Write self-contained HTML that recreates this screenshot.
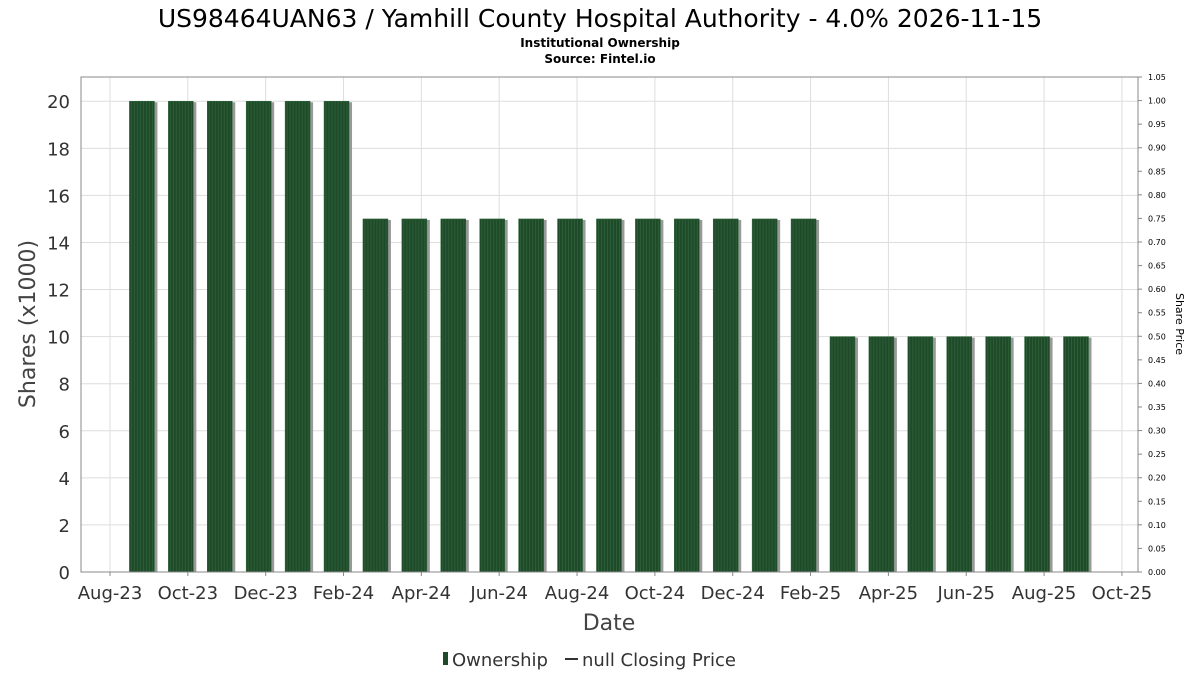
<!DOCTYPE html>
<html><head><meta charset="utf-8"><style>
body{margin:0;background:#fff;font-family:"DejaVu Sans","Liberation Sans",sans-serif}
</style></head><body>
<svg id="chart" width="1200" height="675" xmlns="http://www.w3.org/2000/svg" font-family="DejaVu Sans, Liberation Sans, sans-serif">
<text x="600" y="27" text-anchor="middle" font-size="25" fill="#000">US98464UAN63 / Yamhill County Hospital Authority - 4.0% 2026-11-15</text>
<text x="600" y="47" text-anchor="middle" font-size="12" font-weight="bold" fill="#000">Institutional Ownership</text>
<text x="600" y="63" text-anchor="middle" font-size="12" font-weight="bold" fill="#000">Source: Fintel.io</text>
<g id="grid"></g><g id="bars"></g><g id="axes"></g>
<rect x="81" y="77" width="1057" height="495" fill="none" stroke="#888" stroke-width="1"/>
<text transform="translate(35,324) rotate(-90)" text-anchor="middle" font-size="22" fill="#444">Shares (x1000)</text>
<text transform="translate(1176,324) rotate(90)" text-anchor="middle" font-size="11" fill="#000">Share Price</text>
<text x="609" y="630" text-anchor="middle" font-size="22" fill="#444">Date</text>
<g>
<rect x="443" y="652" width="5" height="13" fill="#1f4a2a"/>
<text x="452" y="666" font-size="18" fill="#333">Ownership</text>
<line x1="565" y1="659" x2="578" y2="659" stroke="#333" stroke-width="2"/>
<text x="582" y="666" font-size="18" fill="#333">null Closing Price</text>
</g>
</svg>
<script>
const tickLabels=["Aug-23","Oct-23","Dec-23","Feb-24","Apr-24","Jun-24","Aug-24","Oct-24","Dec-24","Feb-25","Apr-25","Jun-25","Aug-25","Oct-25"];
const barMonths=[1,2,3,4,5,6,7,8,9,10,11,12,13,14,15,16,17,18,19,20,21,22,23,24,25];
const shares=[20,20,20,20,20,20,15,15,15,15,15,15,15,15,15,15,15,15,10,10,10,10,10,10,10];
const yTicks=[0,2,4,6,8,10,12,14,16,18,20];
const y2Ticks=[0,0.05,0.1,0.15,0.2,0.25,0.3,0.35,0.4,0.45,0.5,0.55,0.6,0.65,0.7,0.75,0.8,0.85,0.9,0.95,1.0,1.05];
const NS="http://www.w3.org/2000/svg";
const L=81,R=1138,T=77,B=572;
const xScale=m=>110+m*38.92;
const yScale=v=>B-(v/21.03)*(B-T);
const y2Scale=v=>B-(v/1.05)*(B-T);
function mk(tag,attrs,parent){const e=document.createElementNS(NS,tag);for(const k in attrs)e.setAttribute(k,attrs[k]);parent.appendChild(e);return e;}
const grid=document.getElementById('grid'),bars=document.getElementById('bars'),axes=document.getElementById('axes');
yTicks.forEach(v=>{const y=yScale(v);
 const g=mk('line',{x1:L,x2:R,y1:y,y2:y,stroke:'#ddd'},grid);
 
 
 const t=mk('text',{x:70,y:y+7,'text-anchor':'end','font-size':18,fill:'#333'},axes);t.textContent=v;
 
 
});
tickLabels.forEach((s,i)=>{const x=xScale(i*2);
 const g=mk('line',{x1:x,x2:x,y1:T,y2:B,stroke:'#ddd'},grid);
 
 
 mk('line',{x1:x,x2:x,y1:B,y2:B+4,stroke:'#888'},axes);
 const t=mk('text',{x:x,y:599,'text-anchor':'middle','font-size':18,fill:'#333'},axes);t.textContent=s;
 
 
});
y2Ticks.forEach(v=>{const y=y2Scale(v);
 mk('line',{x1:R,x2:R+4,y1:y,y2:y,stroke:'#888'},axes);
 const t=mk('text',{x:1148,y:y+3,'font-size':8,fill:'#000'},axes);t.textContent=v.toFixed(2);
 
 
});
barMonths.forEach((m,i)=>{const cx=xScale(m)-7,w=25,y=yScale(shares[i]),h=B-y;
 const sh=mk('rect',{x:cx-w/2+3,y:y+1,width:w,height:h-1,fill:'#999'},bars);
 
 
 const b=mk('rect',{x:cx-w/2,y:y,width:w,height:h,fill:'#1f4a2a',stroke:'#2f6a3c','stroke-width':0.5},bars);
 
 
 for(let k=2;k<w;k+=3){mk('line',{x1:cx-w/2+k,x2:cx-w/2+k,y1:y,y2:B,stroke:'#2c5e37','stroke-width':1},bars);}
});
</script>
</body></html>
